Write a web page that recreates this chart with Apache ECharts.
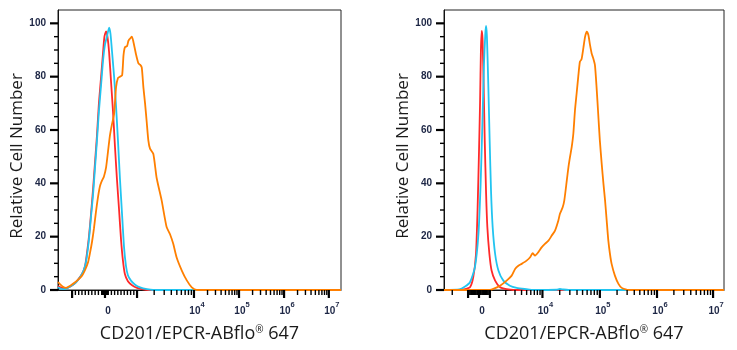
<!DOCTYPE html>
<html>
<head>
<meta charset="utf-8">
<script src="https://cdn.jsdelivr.net/npm/echarts@6/dist/echarts.min.js"></script>
<style>
  html, body { margin: 0; padding: 0; background: #ffffff; }
  #chart { width: 737px; height: 350px; }
</style>
</head>
<body>
<div id="chart"></div>
<script>
// Histogram traces: [display channel (0-1024), relative cell number]
// Left sample
const isotypeLeft = [
  [0, 1.5], [14, 0.8], [29, 0.6], [43, 1.2], [58, 2.2], [72, 3.8], [87, 6], [98, 9],
  [105, 14], [112, 20], [119, 28], [127, 38], [134, 48], [141, 58], [148, 70], [156, 80],
  [163, 89], [168, 95], [174, 97], [179, 95], [185, 89], [192, 78], [199, 67], [206, 54],
  [213, 42], [221, 30], [228, 19], [235, 11], [242, 6], [253, 3.3], [268, 1.8], [286, 0.8],
  [308, 0.2], [326, 0], [1024, 0]
];
const blankLeft = [
  [0, 1.0], [14, 0.3], [29, 0.4], [43, 1.2], [58, 2.2], [72, 3.7], [87, 6], [98, 9],
  [105, 13], [112, 19], [119, 27], [127, 36], [134, 46], [141, 56], [148, 67], [156, 77],
  [163, 86], [170, 92], [177, 95], [185, 98.4], [190, 96], [195, 90], [203, 80], [210, 69],
  [217, 56], [224, 42], [232, 28], [239, 16], [246, 9], [253, 5.5], [264, 3.5], [279, 2],
  [297, 1], [322, 0.3], [344, 0], [1024, 0]
];
const stainedLeft = [
  [0, 3.0], [7, 2.2], [18, 1.2], [29, 0.8], [43, 1.5], [58, 2.6], [72, 3.8], [87, 5.4],
  [98, 7.5], [109, 10.5], [116, 14], [123, 18], [130, 23], [137, 29], [145, 35], [152, 39],
  [159, 41], [166, 42.5], [174, 46], [181, 52], [188, 58], [195, 62], [203, 66], [210, 76],
  [217, 79.5], [224, 80], [232, 80.5], [237, 88], [242, 91], [250, 91.5], [255, 93.5],
  [260, 94.2], [267, 95], [272, 93.5], [282, 88.5], [291, 85], [297, 84.5], [303, 83.5],
  [309, 76], [315, 70], [321, 63], [327, 56], [333, 53], [345, 51], [357, 42], [375, 33.6],
  [393, 23.6], [405, 21], [417, 17.3], [429, 12.3], [448, 7.3], [466, 3.6], [484, 1],
  [502, 0], [1024, 0]
];

// Right sample
const isotypeRight = [
  [0, 0], [56, 0], [77, 0.3], [95, 1], [107, 4.8], [117, 13.5], [123, 31], [128, 52],
  [132, 71], [135, 90], [138, 97.2], [141, 94], [145, 77], [149, 56], [154, 36],
  [158.5, 23.6], [166, 13.5], [174, 7.3], [187, 3.5], [205, 1], [229, 0.3], [254, 0], [1024, 0]
];
const blankRight = [
  [0, 0], [56, 0.2], [77, 1.3], [95, 2.9], [113, 8.5], [126, 21], [134, 40], [140, 61],
  [146, 84], [151, 96], [154, 99], [157, 95], [162, 77], [167, 56], [172, 37], [178, 23.6],
  [187, 13.5], [199, 7.3], [217, 3.5], [241, 1.6], [266, 0.8], [302, 0.3], [327, 0],
  [412, 0.1], [424, 0.4], [436, 0.2], [455, 0], [1024, 0]
];
const stainedRight = [
  [0, 0], [168, 0], [180.5, 0.4], [205, 1.6], [229, 3.5], [247.5, 5.4], [260, 7.9],
  [272, 9.1], [284, 9.8], [302, 11], [315, 12.3], [324, 13.8], [333, 12.9], [345, 14.2],
  [357, 16], [369, 17.3], [382, 18.5], [394, 20.4], [406, 22.3], [418, 26], [424, 28.6],
  [434, 31], [440, 33.6], [449, 41], [455, 46], [461, 50], [467, 53.6], [473, 58.6],
  [479, 67.4], [485, 73.7], [491, 80], [497, 85.6], [503, 86.5], [510, 91], [516, 95],
  [522, 96.9], [528, 95.6], [534, 91.9], [540, 88.7], [546, 86.8], [552, 84.3], [558, 76],
  [564, 66], [570, 56], [577, 47], [583, 40], [589, 33.6], [595, 26], [601, 18.5],
  [607, 13.5], [613, 9.8], [625, 5.4], [638, 2.3], [650, 0.8], [668, 0.1], [680, 0], [1024, 0]
];

// Fluorescence values carrying tick marks / labels
const labelValues = [0, 1e4, 1e5, 1e6, 1e7];
const majorTickValues = [-1e3, 0, 1e3, 1e4, 1e5, 1e6, 1e7];
const yMajorValues = [0, 20, 40, 60, 80, 100];
const yMinorValues = [5, 10, 15, 25, 30, 35, 45, 50, 55, 65, 70, 75, 85, 90, 95];

const xTitle = 'CD201/EPCR-ABflo{r|®} 647';
const yTitle = 'Relative Cell Number';

// Biexponential display scale: channel of -10^3, 0, 10^3 and of 10^4..10^7
const leftScale = { lin: [51, 170, 286], dec: [492, 655, 818, 980] };
const rightScale = { lin: [88, 128, 168], dec: [360, 570, 779, 984] };

function toChannel(v, s) {
  const [a, b, c] = s.lin;
  const dec = [c].concat(s.dec);          // decades 3..7
  if (v >= -1000 && v <= 1000) {
    return v <= 0 ? b + (v / 1000) * (b - a) : b + (v / 1000) * (c - b);
  }
  if (v > 1000) {
    const L = Math.log10(v);
    const k = Math.min(Math.floor(L + 1e-9), 6);
    const i = k - 3;
    return dec[i] + (L - k) * (dec[i + 1] - dec[i]);
  }
  const L = Math.log10(-v);
  return a - (L - 3) * (dec[1] - dec[0]) * (b - a) / (c - b);
}

function minorTickValues() {
  const out = [];
  for (let m = 1; m <= 9; m++) {
    out.push(m * 10, -m * 10, m * 100, -m * 100);
  }
  for (let m = 2; m <= 9; m++) out.push(-m * 1000);
  for (let k = 3; k <= 6; k++) {
    for (let m = 2; m <= 9; m++) out.push(m * Math.pow(10, k));
  }
  return out;
}

function channels(values, s) {
  return values.map(v => toChannel(v, s)).filter(c => c >= 0 && c <= 1024).sort((p, q) => p - q);
}

function labelText(v) {
  return v === 0 ? '{b|0}' : '{b|10}{s|' + Math.round(Math.log10(v)) + '}';
}

const ink = '#000000';
const labelInk = '#1d2645';

function panelAxes(grid, s) {
  const labelCh = labelValues.map(v => toChannel(v, s));
  const formatter = val => {
    for (let i = 0; i < labelCh.length; i++) {
      if (Math.abs(labelCh[i] - val) < 0.5) return labelText(labelValues[i]);
    }
    return '';
  };
  const x = {
    gridIndex: grid, type: 'value', min: 0, max: 1024, position: 'bottom',
    axisLine: { show: true, onZero: false, lineStyle: { color: '#111', width: 1 } },
    axisTick: { show: false },
    axisLabel: {
      show: true, customValues: labelCh, margin: 11, padding: [0, 0, 0, 6],
      hideOverlap: false, formatter: formatter,
      rich: {
        b: { fontSize: 10, fontWeight: 'bold', fontFamily: 'Liberation Sans', color: labelInk, lineHeight: 20 },
        s: { fontSize: 7.5, fontWeight: 'bold', fontFamily: 'Liberation Sans', color: labelInk, lineHeight: 8, verticalAlign: 'top' }
      }
    },
    splitLine: { show: false },
    name: xTitle, nameLocation: 'middle', nameGap: 35,
    nameTextStyle: {
      fontFamily: 'Open Sans', fontSize: 18, color: '#1a1a1a',
      rich: { r: { fontFamily: 'Open Sans', fontSize: 10, color: '#1a1a1a', lineHeight: 10, verticalAlign: 'top' } }
    }
  };
  const y = {
    gridIndex: grid, type: 'value', min: 0, max: 105, position: 'left',
    axisLine: { show: true, onZero: false, lineStyle: { color: '#111', width: 1 } },
    axisTick: { show: false },
    axisLabel: { show: true, customValues: yMajorValues, margin: 12, fontSize: 10, fontWeight: 'bold',
                 fontFamily: 'Liberation Sans', color: labelInk },
    splitLine: { show: false },
    name: yTitle, nameLocation: 'middle', nameGap: 30, nameRotate: 90,
    nameTextStyle: { fontFamily: 'Open Sans', fontSize: 17, color: '#1a1a1a', padding: [0, 12, 0, 0] }
  };
  return { x, y };
}

// Tick marks drawn through the axis coordinate system
function xTicks(chs, len, width, idx) {
  return {
    type: 'custom', xAxisIndex: idx, yAxisIndex: idx, clip: false, z: 5,
    data: chs.map(c => [c, 0]),
    renderItem: (params, api) => {
      const p = api.coord([api.value(0), 0]);
      return { type: 'line', shape: { x1: p[0], y1: p[1], x2: p[0], y2: p[1] + len },
               style: { stroke: ink, lineWidth: width } };
    }
  };
}
function yTicks(vals, len, width, idx) {
  return {
    type: 'custom', xAxisIndex: idx, yAxisIndex: idx, clip: false, z: 5,
    data: vals.map(v => [0, v]),
    renderItem: (params, api) => {
      const p = api.coord([api.value(0), api.value(1)]);
      return { type: 'line', shape: { x1: p[0] - len, y1: p[1], x2: p[0], y2: p[1] },
               style: { stroke: ink, lineWidth: width } };
    }
  };
}

const L = panelAxes(0, leftScale);
const R = panelAxes(1, rightScale);

function trace(data, color, axisIdx) {
  return {
    type: 'line', data: data, xAxisIndex: axisIdx, yAxisIndex: axisIdx,
    showSymbol: false, smooth: 0.2, silent: true,
    lineStyle: { color: color, width: 1.8 }
  };
}

const red = '#ff2a2a', cyan = '#22c4f0', orange = '#ff7f00';

const option = {
  animation: false,
  backgroundColor: '#ffffff',
  grid: [
    { left: 58, right: 396, top: 10, bottom: 60, show: true, borderColor: '#222', borderWidth: 1 },
    { left: 444, right: 13, top: 10, bottom: 60, show: true, borderColor: '#222', borderWidth: 1 }
  ],
  xAxis: [L.x, R.x],
  yAxis: [L.y, R.y],
  series: [
    trace(isotypeLeft, red, 0),
    trace(blankLeft, cyan, 0),
    trace(stainedLeft, orange, 0),
    trace(isotypeRight, red, 1),
    trace(blankRight, cyan, 1),
    trace(stainedRight, orange, 1),
    xTicks(channels(majorTickValues, leftScale), 8, 2.2, 0),
    xTicks(channels(minorTickValues(), leftScale), 5, 1.4, 0),
    yTicks(yMajorValues, 8, 2.2, 0),
    yTicks(yMinorValues, 4, 1.4, 0),
    xTicks(channels(majorTickValues, rightScale), 8, 2.2, 1),
    xTicks(channels(minorTickValues(), rightScale), 5, 1.4, 1),
    yTicks(yMajorValues, 8, 2.2, 1),
    yTicks(yMinorValues, 4, 1.4, 1)
  ]
};

const chart = echarts.init(document.getElementById('chart'), null, { renderer: 'canvas' });
chart.setOption(option);
</script>
</body>
</html>
